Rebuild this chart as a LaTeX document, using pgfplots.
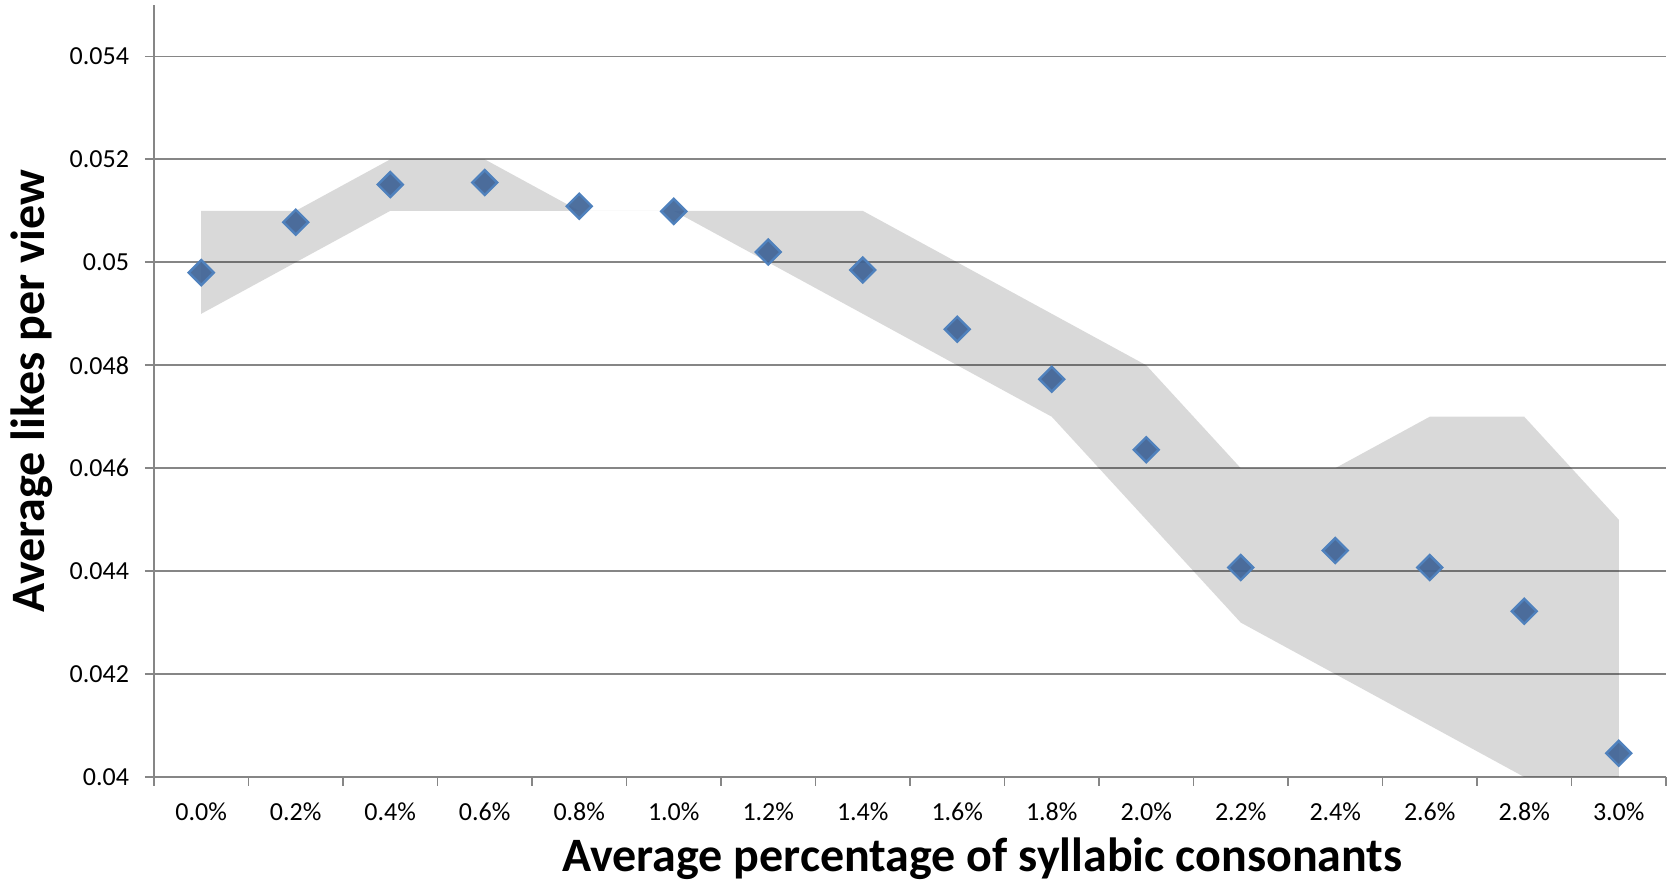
\documentclass[border=0pt]{standalone}
\usepackage{fontspec}
\setmainfont{Carlito}
\usepackage{pgfplots}
\usepackage{pgfplotstable}
\pgfplotsset{compat=1.18}
\definecolor{gridc}{HTML}{868686}
\definecolor{mfill}{HTML}{3F6496}
\definecolor{medge}{HTML}{4F81BD}

\pgfplotstableread{
x  y
0  0.04980
1  0.05078
2  0.05151
3  0.05155
4  0.05109
5  0.05099
6  0.05020
7  0.04985
8  0.04870
9  0.04773
10 0.04636
11 0.04407
12 0.04440
13 0.04407
14 0.04322
15 0.04046
}\data

\begin{document}
\begin{tikzpicture}
\useasboundingbox (-77pt,-52.5pt) rectangle (761.5pt,388.5pt);
\begin{axis}[
  scale only axis, width=756pt, height=386pt,
  xmin=-0.5, xmax=15.5, ymin=0.04, ymax=0.055,
  axis x line*=bottom, axis y line*=left,
  axis line style={gridc, line width=0.9pt, -},
  xtick={0,...,15},
  xticklabels={0.0\%,0.2\%,0.4\%,0.6\%,0.8\%,1.0\%,1.2\%,1.4\%,1.6\%,1.8\%,2.0\%,2.2\%,2.4\%,2.6\%,2.8\%,3.0\%},
  major x tick style={draw=none},
  minor xtick={-0.5,0.5,1.5,2.5,3.5,4.5,5.5,6.5,7.5,8.5,9.5,10.5,11.5,12.5,13.5,14.5,15.5},
  minor x tick style={gridc, line width=0.9pt},
  minor tick length=4.5pt,
  major tick length=4.5pt,
  tick align=outside,
  ytick={0.04,0.042,0.044,0.046,0.048,0.05,0.052,0.054},
  yticklabels={0.04,0.042,0.044,0.046,0.048,0.05,0.052,0.054},
  major y tick style={gridc, line width=0.9pt},
  ymajorgrids,
  grid style={gridc, line width=0.9pt},
  /pgf/number format/assume math mode=true,
  tick label style={font=\fontsize{13}{15}\selectfont},
  xticklabel style={yshift=-5pt},
  yticklabel style={xshift=-4.5pt},
  xlabel={Average percentage of syllabic consonants},
  ylabel={Average likes per view},
  xlabel style={font=\bfseries\fontsize{24}{28}\selectfont, at={(axis description cs:0.548,-0.1054)}, anchor=center},
  ylabel style={font=\bfseries\fontsize{24}{28}\selectfont, at={(axis description cs:-0.0807,0.5)}, anchor=center},
  clip=false,
]
\addplot[fill=black, fill opacity=0.15, draw=none] coordinates {
  (0,0.051) (1,0.051) (2,0.052) (3,0.052) (4,0.051) (5,0.051) (6,0.051) (7,0.051)
  (8,0.050) (9,0.049) (10,0.048) (11,0.046) (12,0.046) (13,0.047) (14,0.047) (15,0.045)
  (15,0.040) (14,0.040) (13,0.041) (12,0.042) (11,0.043) (10,0.045) (9,0.047) (8,0.048)
  (7,0.049) (6,0.050) (5,0.051) (4,0.051) (3,0.051) (2,0.051) (1,0.050) (0,0.049)
} -- cycle;
\addplot[only marks, mark=square*, mark size=4.4pt,
  mark options={rotate=45, fill=mfill, fill opacity=0.92, draw=medge, line width=1.2pt}]
  table[x=x, y=y] {\data};
\end{axis}
\end{tikzpicture}
\end{document}
